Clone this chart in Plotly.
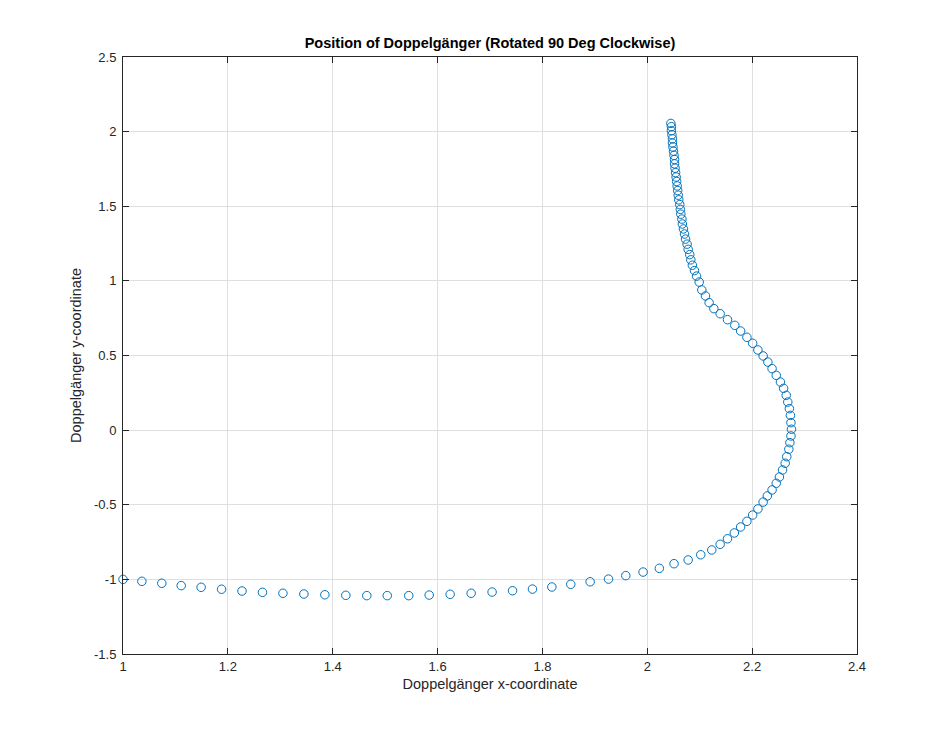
import plotly.graph_objects as go

# Estimated positions of the Doppelgänger
x_vals = [
    1.000, 1.036, 1.074, 1.111, 1.149, 1.188, 1.227, 1.266, 1.305, 1.345,
    1.385, 1.425, 1.465, 1.504, 1.545, 1.584, 1.624, 1.664, 1.704, 1.743,
    1.781, 1.818, 1.854, 1.891, 1.926, 1.959, 1.992, 2.023, 2.051, 2.078,
    2.102, 2.123, 2.139, 2.153, 2.166, 2.178, 2.190, 2.201, 2.211, 2.221,
    2.229, 2.238, 2.246, 2.252, 2.258, 2.263, 2.266, 2.270, 2.272, 2.274,
    2.275, 2.274, 2.273, 2.271, 2.268, 2.265, 2.260, 2.254, 2.246, 2.238,
    2.230, 2.221, 2.211, 2.201, 2.190, 2.178, 2.167, 2.153, 2.139, 2.127,
    2.118, 2.111, 2.104,
    2.099, 2.094, 2.090, 2.086, 2.083, 2.081, 2.078, 2.076, 2.073, 2.071,
    2.069, 2.067, 2.066, 2.064, 2.063, 2.062, 2.060, 2.059, 2.058, 2.057,
    2.056, 2.055, 2.054, 2.053, 2.052, 2.052, 2.051, 2.050, 2.049, 2.048,
    2.048, 2.047, 2.046, 2.046, 2.045,
]
y_vals = [
    -1.000, -1.013, -1.026, -1.042, -1.053, -1.066, -1.078, -1.087, -1.093, -1.098,
    -1.103, -1.107, -1.109, -1.109, -1.109, -1.105, -1.100, -1.093, -1.085, -1.076,
    -1.065, -1.051, -1.033, -1.016, -0.998, -0.975, -0.951, -0.926, -0.895, -0.870,
    -0.835, -0.803, -0.765, -0.728, -0.689, -0.649, -0.611, -0.569, -0.528, -0.482,
    -0.441, -0.401, -0.356, -0.314, -0.267, -0.222, -0.178, -0.128, -0.084, -0.039,
    0.006, 0.050, 0.099, 0.144, 0.188, 0.233, 0.280, 0.322, 0.367, 0.412,
    0.456, 0.497, 0.537, 0.582, 0.622, 0.664, 0.702, 0.740, 0.780, 0.814,
    0.854, 0.899, 0.939,
    0.992, 1.032, 1.069, 1.105, 1.141, 1.176, 1.211, 1.246, 1.280, 1.314,
    1.348, 1.381, 1.414, 1.447, 1.479, 1.511, 1.543, 1.574, 1.605, 1.636,
    1.666, 1.696, 1.725, 1.755, 1.784, 1.813, 1.841, 1.869, 1.897, 1.924,
    1.952, 1.979, 2.006, 2.033, 2.055,
]

x_ticks = [1, 1.2, 1.4, 1.6, 1.8, 2, 2.2, 2.4]
x_tick_text = ["1", "1.2", "1.4", "1.6", "1.8", "2", "2.2", "2.4"]
y_ticks = [-1.5, -1, -0.5, 0, 0.5, 1, 1.5, 2, 2.5]
y_tick_text = ["-1.5", "-1", "-0.5", "0", "0.5", "1", "1.5", "2", "2.5"]

title_text = "Position of Doppelgänger (Rotated 90 Deg Clockwise)"
x_label = "Doppelgänger x-coordinate"
y_label = "Doppelgänger y-coordinate"

FONT = "Liberation Sans, Arial, sans-serif"

fig = go.Figure()
fig.add_trace(go.Scatter(
    x=x_vals, y=y_vals, mode="markers", cliponaxis=False,
    marker=dict(symbol="circle-open", size=8.5, color="#0072BD",
                line=dict(width=1, color="#0072BD")),
    showlegend=False,
))

axis_common = dict(
    showline=True, linecolor="#262626", linewidth=1, mirror="ticks",
    ticks="inside", ticklen=6, tickcolor="#262626", tickwidth=1,
    showgrid=True, gridcolor="#DFDFDF", gridwidth=1,
    zeroline=False,
    tickfont=dict(family=FONT, size=13, color="#262626"),
)

fig.update_layout(
    width=949, height=735,
    margin=dict(l=115, r=100, t=49, b=89),
    paper_bgcolor="white", plot_bgcolor="white",
    title=dict(text="<b>" + title_text + "</b>", x=0.5, xanchor="center",
               xref="paper", y=1 - 35 / 735, yanchor="middle",
               font=dict(family=FONT, size=14.5, color="black")),
    xaxis=dict(range=[1, 2.4], tickvals=x_ticks, ticktext=x_tick_text,
               title=dict(text=x_label, standoff=6,
                          font=dict(family=FONT, size=14.5, color="#262626")),
               **axis_common),
    yaxis=dict(range=[-1.5, 2.5], tickvals=y_ticks, ticktext=y_tick_text,
               ticklabelstandoff=3,
               title=dict(text=y_label, standoff=8,
                          font=dict(family=FONT, size=14.5, color="#262626")),
               **axis_common),
)

fig.write_html("out.html")
